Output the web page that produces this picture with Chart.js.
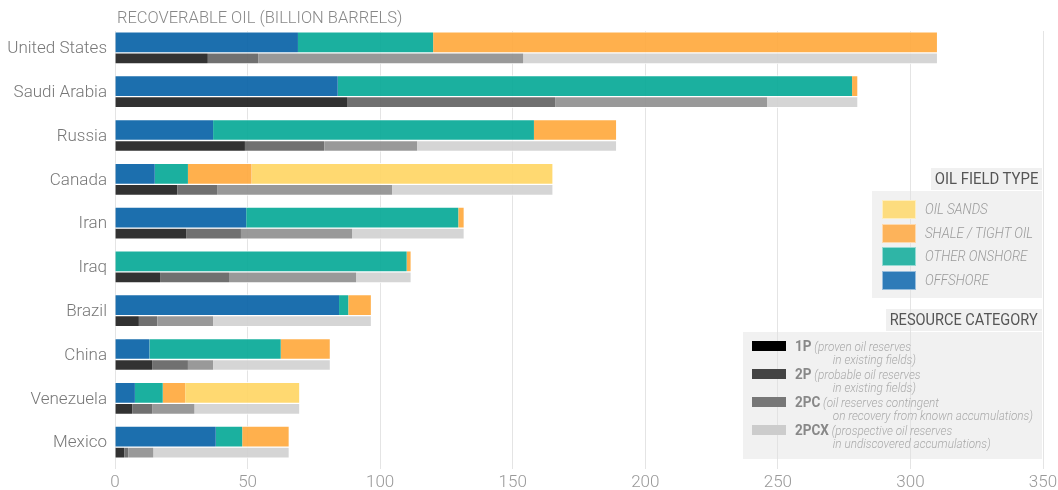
<!DOCTYPE html>
<html>
<head>
<meta charset="utf-8">
<script src="https://cdn.jsdelivr.net/npm/chart.js@4.4.1/dist/chart.umd.min.js"></script>
<style>
  body { margin: 0; background: #fff; font-family: Roboto, sans-serif; }
  #wrap { position: relative; width: 1058px; height: 490px; }
  #title { position: absolute; left: 117px; top: 7px; font: 300 17px Roboto; color: #888; white-space: nowrap; transform-origin: left top; transform: scaleX(0.97); }
  .head { position: absolute; height: 22px; background: rgba(225,225,225,0.5); color: #555; font: 400 16px/22px Roboto; white-space: nowrap; }
  .head span { display: inline-block; transform-origin: left center; padding-left: 4px; }
  .box { position: absolute; background: rgba(225,225,225,0.45); }
  .sw { position: absolute; box-sizing: border-box; border: 1px solid rgba(255,255,255,0.5); }
  .txt { position: absolute; white-space: nowrap; transform-origin: left top; }
  .typeTxt { font: italic 300 15px/19px Roboto; color: #9a9a9a; transform: scaleX(0.88); }
  .resTxt { font: italic 300 13px/13px Roboto; color: #aaa; transform: scaleX(0.9); }
  .resTxt b { font: normal 700 15px/13px Roboto; color: #888; }
  .resTxt .l2 { padding-left: 42px; }
</style>
</head>
<body>
<div id="wrap">
  <canvas id="myChart"></canvas>
  <div id="title">RECOVERABLE OIL (BILLION BARRELS)</div>
  <div class="head" style="left:931px;top:168px;width:111px;"><span style="transform:scaleX(0.93)">OIL FIELD TYPE</span></div>
  <div class="box" id="typeLegend" style="left:872px;top:191px;width:170px;height:107px;"></div>
  <div class="head" style="left:886px;top:309px;width:156px;"><span style="transform:scaleX(0.91)">RESOURCE CATEGORY</span></div>
  <div class="box" id="resLegend" style="left:743px;top:332px;width:299px;height:127px;"></div>
</div>
<script>
const countries = ['United States', 'Saudi Arabia', 'Russia', 'Canada', 'Iran', 'Iraq', 'Brazil', 'China', 'Venezuela', 'Mexico'];
const xTicks = [0, 50, 100, 150, 200, 250, 300, 350];

// oil field type, segment widths (billion barrels)
const offshore    = [69, 84, 37, 15, 49.5, 0, 84.5, 13, 7.5, 38];
const otherOnshore = [51, 194, 121, 12.5, 80, 110, 3.5, 49.5, 10.5, 10];
const shaleTight  = [190, 2, 31, 24, 2, 1.5, 8.5, 18.5, 8.5, 17.5];
const oilSands    = [0, 0, 0, 113.5, 0, 0, 0, 0, 43, 0];

// resource category, segment widths
const res1P   = [35, 87.5, 49, 23.5, 27, 17, 9, 14, 6.5, 3.5];
const res2P   = [19, 78.5, 30, 15, 20.5, 26, 7, 13.5, 7.5, 1.5];
const res2PC  = [100, 80, 35, 66, 42, 48, 21, 9.5, 16, 9.5];
const res2PCX = [156, 34, 75, 60.5, 42, 20.5, 59.5, 44, 39.5, 51];

const typeNames = ['OFFSHORE', 'OTHER ONSHORE', 'SHALE / TIGHT OIL', 'OIL SANDS'];
const typeColors = ['rgba(3,95,165,0.9)', 'rgba(2,167,149,0.9)', 'rgba(255,167,58,0.9)', 'rgba(255,213,98,0.9)'];
const typeSwatch = ['#2e7bb8', '#2fb5a6', '#fdb35a', '#fddc7e'];

const resNames = ['1P', '2P', '2PC', '2PCX'];
const resNotes = [
    ['(proven oil reserves', 'in existing fields)'],
    ['(probable oil reserves', 'in existing fields)'],
    ['(oil reserves contingent', 'on recovery from known accumulations)'],
    ['(prospective oil reserves', 'in undiscovered accumulations)']
];
const resColors = ['rgba(28,28,28,0.9)', 'rgba(97,97,97,0.9)', 'rgba(142,142,142,0.9)', 'rgba(208,208,208,0.9)'];
const resSwatch = ['#000', '#444', '#777', '#ccc'];

const typeData = [offshore, otherOnshore, shaleTight, oilSands];
const resData = [res1P, res2P, res2PC, res2PCX];

const datasets = [];
typeData.forEach((d, i) => {
    datasets.push({
        label: typeNames[i], data: d, stack: 'type',
        backgroundColor: typeColors[i], barThickness: 21,
        borderColor: 'rgba(255,255,255,0.8)', borderWidth: { top: 1, bottom: 1, left: 0, right: 0 }, borderSkipped: false
    });
});
resData.forEach((d, i) => {
    datasets.push({
        label: resNames[i], data: d, stack: 'res',
        backgroundColor: resColors[i], barThickness: 11,
        borderColor: 'rgba(255,255,255,0.8)', borderWidth: { top: 1, bottom: 1, left: 0, right: 0 }, borderSkipped: false
    });
});

Chart.defaults.font.family = 'Roboto';
Chart.defaults.font.weight = 300;

new Chart(document.getElementById('myChart'), {
    type: 'bar',
    data: { labels: countries, datasets: datasets },
    options: {
        indexAxis: 'y',
        responsive: true,
        maintainAspectRatio: false,
        animation: false,
        layout: { padding: { top: 31, right: 15, left: 0, bottom: 0 } },
        plugins: { legend: { display: false }, tooltip: { enabled: false } },
        scales: {
            x: {
                stacked: true, min: 0, max: 350,
                afterBuildTicks: s => { s.ticks = xTicks.map(v => ({ value: v })); },
                afterFit: s => { s.height = 21; s.paddingRight = 0; s.paddingLeft = 0; },
                grid: { color: '#e4e4e4', drawTicks: false },
                border: { display: false },
                ticks: { color: '#999', font: { size: 17 }, padding: 4 }
            },
            y: {
                stacked: true,
                afterFit: s => { s.width = 115; },
                grid: { display: false, drawTicks: false },
                border: { display: false },
                ticks: { color: '#777', font: { size: 17 }, padding: 8, labelOffset: -4 }
            }
        }
    }
});

// legends
const typeBox = document.getElementById('typeLegend');
[3, 2, 1, 0].forEach((k, row) => {
    const top = 9 + row * 23.5;
    typeBox.insertAdjacentHTML('beforeend',
        `<div class="sw" style="left:10px;top:${top}px;width:34px;height:19px;background:${typeSwatch[k]}"></div>` +
        `<div class="txt typeTxt" style="left:53px;top:${top}px">${typeNames[k]}</div>`);
});
const resBox = document.getElementById('resLegend');
resNames.forEach((n, i) => {
    const top = 9 + i * 28;
    resBox.insertAdjacentHTML('beforeend',
        `<div class="sw" style="left:9px;top:${top}px;width:34px;height:10px;border:none;background:${resSwatch[i]}"></div>` +
        `<div class="txt resTxt" style="left:52px;top:${top - 1}px"><b>${n}</b> ${resNotes[i][0]}<br><span class="l2">${resNotes[i][1]}</span></div>`);
});
</script>
</body>
</html>
